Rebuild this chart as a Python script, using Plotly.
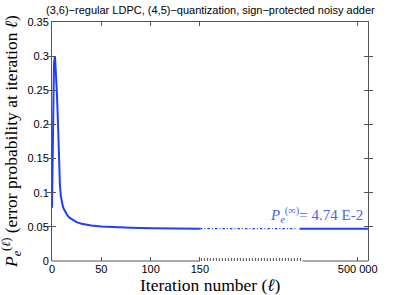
import plotly.graph_objects as go

# ---- data ----
iterations = [0, 1, 2, 3, 4, 5, 6, 7, 8, 9, 10, 11, 12, 14, 16, 18, 20, 25, 30, 35,
              40, 50, 60, 70, 80, 100, 125, 150]
pe = [0.078, 0.22, 0.29, 0.30, 0.275, 0.245, 0.205, 0.155, 0.112, 0.095, 0.086,
      0.080, 0.076, 0.070, 0.066, 0.063, 0.061, 0.057, 0.0545, 0.053,
      0.052, 0.0507, 0.0499, 0.0493, 0.0488, 0.0481, 0.0477, 0.0474]
pe_inf = 0.0474
pe_inf_label = "4.74 E-2"

x_tick_vals = [0, 50, 100, 150, 310]
x_tick_text = ["0", "50", "100", "150", "500 000"]
y_tick_vals = [0, 0.05, 0.1, 0.15, 0.2, 0.25, 0.3, 0.35]
y_tick_text = ["0", "0.05", "0.1", "0.15", "0.2", "0.25", "0.3", "0.35"]

# broken-axis layout (display units)
BREAK_FROM = 150
BREAK_TO = 254
X_END = 320.5

title_txt = "(3,6)\u2212regular LDPC, (4,5)\u2212quantization, sign\u2212protected noisy adder"

BLUE = "#1f3cff"
AX = "#555555"
SERIF = "Liberation Serif, Times New Roman, serif"
SANS = "Liberation Sans, Arial, sans-serif"

fig = go.Figure()
# transient part
fig.add_trace(go.Scatter(x=iterations, y=pe, mode="lines",
                         line=dict(color=BLUE, width=2), showlegend=False))
# break region (dash-dot)
fig.add_trace(go.Scatter(x=[BREAK_FROM, BREAK_TO - 5], y=[pe_inf, pe_inf], mode="lines",
                         line=dict(color=BLUE, width=1.3, dash="2.5px,2px,1px,2px"),
                         showlegend=False))
# tail near 500 000
fig.add_trace(go.Scatter(x=[BREAK_TO - 3, X_END], y=[pe_inf, pe_inf], mode="lines",
                         line=dict(color=BLUE, width=2), showlegend=False))
# invisible trace for top axis
fig.add_trace(go.Scatter(x=[0, X_END], y=[0, 0], xaxis="x2", mode="lines",
                         line=dict(width=0), hoverinfo="skip", showlegend=False))

# bottom broken axis line
fig.add_shape(type="line", xref="x", yref="paper", x0=0, x1=BREAK_FROM, y0=0, y1=0,
              line=dict(color=AX, width=1))
fig.add_shape(type="line", xref="x", yref="paper", x0=BREAK_FROM + 1, x1=BREAK_TO - 1,
              y0=0.006, y1=0.006, line=dict(color=AX, width=3, dash="1px,2px"))
fig.add_shape(type="line", xref="x", yref="paper", x0=BREAK_TO, x1=X_END, y0=0, y1=0,
              line=dict(color=AX, width=1))

fig.update_layout(
    width=407, height=295,
    margin=dict(l=52, r=39, t=22, b=34),
    paper_bgcolor="white", plot_bgcolor="white",
    xaxis=dict(range=[0, X_END], tickvals=x_tick_vals, ticktext=x_tick_text,
               ticks="inside", ticklen=4, tickcolor=AX, showline=False,
               showgrid=False, zeroline=False,
               tickfont=dict(family=SANS, size=11, color="black")),
    xaxis2=dict(range=[0, X_END], overlaying="x", side="top", matches="x",
                tickvals=x_tick_vals, ticks="inside", ticklen=4, tickcolor=AX,
                showline=True, linecolor=AX, linewidth=1, showticklabels=False,
                showgrid=False, zeroline=False),
    yaxis=dict(range=[0, 0.35], tickvals=y_tick_vals, ticktext=y_tick_text,
               ticks="inside", ticklen=4, tickcolor=AX, showline=True,
               linecolor=AX, linewidth=1, mirror="allticks",
               showgrid=False, zeroline=False,
               tickfont=dict(family=SANS, size=11, color="black")),
    annotations=[
        dict(text=title_txt, xref="paper", yref="paper", x=0.5, y=1.05,
             xanchor="center", yanchor="middle", showarrow=False,
             font=dict(family=SANS, size=11, color="black")),
        dict(text="Iteration number (<i>ℓ</i>)", xref="paper", yref="paper",
             x=0.5, y=-0.10, xanchor="center", yanchor="middle", showarrow=False,
             font=dict(family=SERIF, size=17.5, color="black")),
        dict(text="<i>P</i><sub><i>e</i></sub><sup>(<i>ℓ</i>)</sup> (error probability at iteration <i>ℓ</i>)",
             xref="paper", yref="paper", x=-0.128, y=0.5, textangle=-90,
             xanchor="center", yanchor="middle", showarrow=False,
             font=dict(family=SERIF, size=17.5, color="black")),
        dict(text="<i>P</i><sub><i>e</i></sub><sup>(∞)</sup>= " + pe_inf_label,
             xref="x", yref="y", x=317, y=0.068, xanchor="right", yanchor="middle",
             showarrow=False, font=dict(family=SERIF, size=15, color="#4a63f0")),
    ],
)

fig.write_html("out.html", config={"displayModeBar": False},
               post_script="document.body.style.margin='0';")
